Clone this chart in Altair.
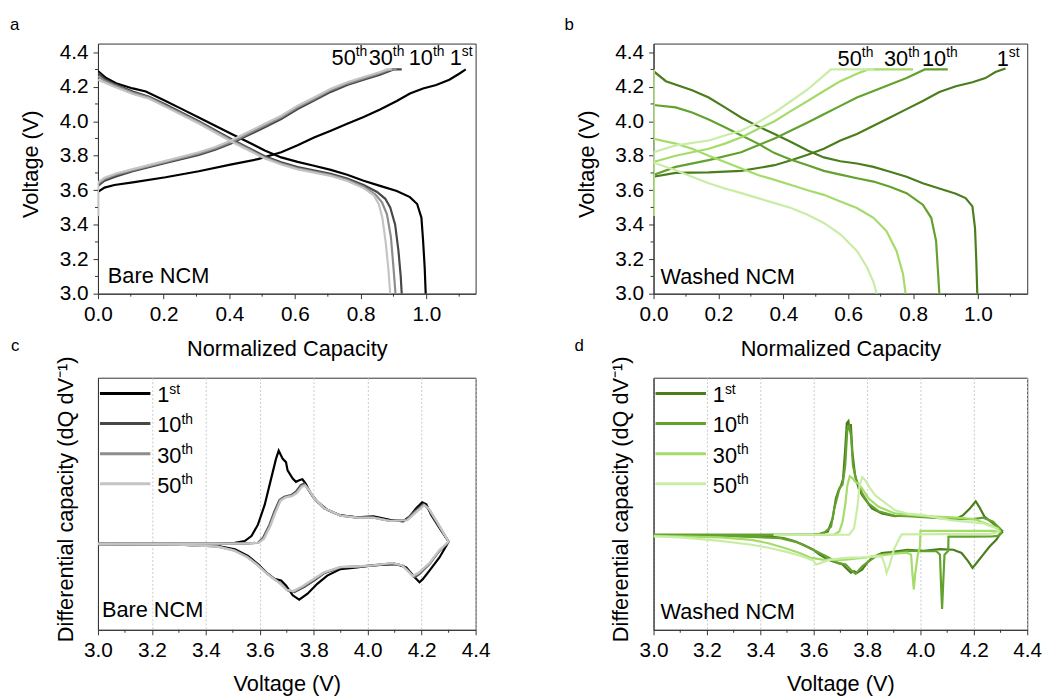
import altair as alt
import pandas as pd

CYCLES = ["1st", "10th", "30th", "50th"]
NUMS = ["1", "10", "30", "50"]
SUPS = ["st", "th", "th", "th"]
GRAYS = ["#000000", "#474747", "#8c8c8c", "#c4c4c4"]
GREENS = ["#4b7d1d", "#62a22d", "#a4dc69", "#c9eda5"]

# ---------- panel a: Bare NCM, voltage vs normalized capacity ----------
A1_CHG = [(0.0, 3.45), (0.0, 3.59), (0.02, 3.615), (0.05, 3.63), (0.106, 3.645), (0.206, 3.675),
          (0.307, 3.71), (0.407, 3.75), (0.487, 3.78), (0.558, 3.82), (0.608, 3.86), (0.658, 3.905),
          (0.709, 3.945), (0.759, 3.985), (0.809, 4.025), (0.859, 4.068), (0.91, 4.117), (0.95, 4.16),
          (0.99, 4.19), (1.03, 4.21), (1.07, 4.24), (1.10, 4.275), (1.12, 4.30)]
A1_DIS = [(0.0, 4.29), (0.025, 4.25), (0.055, 4.22), (0.106, 4.19), (0.146, 4.172), (0.206, 4.117),
          (0.256, 4.07), (0.307, 4.022), (0.357, 3.974), (0.407, 3.926), (0.457, 3.879), (0.508, 3.83),
          (0.558, 3.79), (0.608, 3.764), (0.658, 3.742), (0.709, 3.718), (0.759, 3.69), (0.809, 3.655),
          (0.859, 3.625), (0.91, 3.595), (0.95, 3.56), (0.972, 3.52), (0.985, 3.44), (0.99, 3.31),
          (0.995, 3.15), (0.998, 3.0)]
A10_CHG = [(0.0, 3.45), (0.0, 3.625), (0.02, 3.655), (0.055, 3.68), (0.106, 3.71), (0.206, 3.758),
           (0.307, 3.805), (0.357, 3.835), (0.407, 3.872), (0.457, 3.918), (0.508, 3.965), (0.558, 4.012),
           (0.608, 4.07), (0.658, 4.12), (0.709, 4.17), (0.759, 4.21), (0.809, 4.24), (0.859, 4.27),
           (0.9, 4.30), (0.925, 4.30)]
A10_DIS = [(0.0, 4.28), (0.02, 4.245), (0.05, 4.215), (0.106, 4.172), (0.156, 4.142), (0.206, 4.097),
           (0.307, 4.0), (0.407, 3.895), (0.457, 3.846), (0.508, 3.797), (0.558, 3.762), (0.608, 3.734),
           (0.709, 3.695), (0.759, 3.668), (0.809, 3.63), (0.85, 3.59), (0.875, 3.55), (0.89, 3.5),
           (0.905, 3.4), (0.915, 3.25), (0.922, 3.1), (0.925, 3.0)]
A30_CHG = [(0.0, 3.45), (0.0, 3.635), (0.02, 3.665), (0.055, 3.69), (0.106, 3.716), (0.206, 3.764),
           (0.307, 3.812), (0.357, 3.842), (0.407, 3.88), (0.457, 3.927), (0.508, 3.975), (0.558, 4.022),
           (0.608, 4.08), (0.658, 4.128), (0.709, 4.18), (0.759, 4.218), (0.809, 4.248), (0.859, 4.278),
           (0.89, 4.30), (0.91, 4.30)]
A30_DIS = [(0.0, 4.26), (0.02, 4.235), (0.05, 4.208), (0.106, 4.165), (0.156, 4.137), (0.206, 4.09),
           (0.307, 3.994), (0.407, 3.888), (0.457, 3.84), (0.508, 3.79), (0.558, 3.755), (0.608, 3.727),
           (0.709, 3.688), (0.759, 3.66), (0.809, 3.62), (0.845, 3.575), (0.865, 3.53), (0.88, 3.46),
           (0.892, 3.33), (0.9, 3.15), (0.906, 3.0)]
A50_CHG = [(0.0, 3.45), (0.0, 3.645), (0.02, 3.672), (0.055, 3.697), (0.106, 3.722), (0.206, 3.77),
           (0.307, 3.82), (0.357, 3.85), (0.407, 3.89), (0.457, 3.937), (0.508, 3.985), (0.558, 4.032),
           (0.608, 4.09), (0.658, 4.137), (0.709, 4.188), (0.759, 4.226), (0.809, 4.256), (0.859, 4.285),
           (0.88, 4.30), (0.895, 4.30)]
A50_DIS = [(0.0, 4.24), (0.02, 4.225), (0.05, 4.2), (0.106, 4.158), (0.156, 4.13), (0.206, 4.083),
           (0.307, 3.987), (0.407, 3.881), (0.457, 3.833), (0.508, 3.784), (0.558, 3.749), (0.608, 3.721),
           (0.709, 3.682), (0.759, 3.653), (0.809, 3.612), (0.84, 3.57), (0.855, 3.52), (0.866, 3.44),
           (0.876, 3.3), (0.884, 3.15), (0.89, 3.0)]

# ---------- panel b: Washed NCM, voltage vs normalized capacity ----------
B1_CHG = [(0.0, 3.45), (0.0, 3.678), (0.068, 3.70), (0.17, 3.703), (0.27, 3.712), (0.373, 3.745),
          (0.424, 3.774), (0.475, 3.806), (0.525, 3.84), (0.576, 3.888), (0.627, 3.926), (0.678, 3.974),
          (0.729, 4.022), (0.78, 4.07), (0.83, 4.117), (0.881, 4.169), (0.932, 4.203), (0.983, 4.226),
          (1.023, 4.25), (1.054, 4.285), (1.085, 4.305)]
B1_DIS = [(0.0, 4.29), (0.038, 4.232), (0.119, 4.18), (0.17, 4.137), (0.22, 4.08), (0.271, 4.02),
          (0.322, 3.97), (0.373, 3.926), (0.424, 3.879), (0.475, 3.83), (0.525, 3.79), (0.576, 3.768),
          (0.627, 3.755), (0.678, 3.735), (0.729, 3.707), (0.78, 3.678), (0.83, 3.64), (0.881, 3.61),
          (0.932, 3.58), (0.962, 3.554), (0.983, 3.506), (0.991, 3.38), (0.995, 3.19), (0.998, 3.0)]
B10_CHG = [(0.0, 3.45), (0.0, 3.688), (0.068, 3.735), (0.17, 3.774), (0.27, 3.82), (0.322, 3.86),
           (0.373, 3.90), (0.424, 3.946), (0.475, 3.993), (0.525, 4.04), (0.576, 4.089), (0.627, 4.137),
           (0.678, 4.175), (0.729, 4.213), (0.78, 4.25), (0.836, 4.30), (0.907, 4.30)]
B10_DIS = [(0.0, 4.094), (0.068, 4.08), (0.119, 4.05), (0.17, 4.01), (0.22, 3.965), (0.271, 3.917),
           (0.322, 3.87), (0.373, 3.815), (0.424, 3.776), (0.475, 3.745), (0.525, 3.712), (0.576, 3.69),
           (0.627, 3.669), (0.678, 3.65), (0.729, 3.62), (0.78, 3.583), (0.83, 3.516), (0.856, 3.44),
           (0.871, 3.306), (0.876, 3.153), (0.881, 3.0)]
B30_CHG = [(0.0, 3.45), (0.0, 3.764), (0.068, 3.80), (0.17, 3.84), (0.22, 3.87), (0.271, 3.907),
           (0.322, 3.955), (0.373, 4.0), (0.424, 4.06), (0.475, 4.117), (0.525, 4.175), (0.576, 4.232),
           (0.627, 4.275), (0.662, 4.30), (0.80, 4.30)]
B30_DIS = [(0.0, 4.30), (0.0, 3.898), (0.068, 3.87), (0.119, 3.84), (0.17, 3.80), (0.22, 3.764),
           (0.271, 3.726), (0.322, 3.688), (0.373, 3.66), (0.424, 3.63), (0.475, 3.60), (0.525, 3.573),
           (0.576, 3.535), (0.627, 3.497), (0.678, 3.44), (0.718, 3.363), (0.749, 3.248), (0.769, 3.115),
           (0.777, 3.0)]
B50_CHG = [(0.0, 3.45), (0.0, 3.82), (0.068, 3.86), (0.17, 3.888), (0.22, 3.917), (0.271, 3.946),
           (0.322, 3.993), (0.373, 4.05), (0.424, 4.117), (0.475, 4.184), (0.505, 4.232), (0.547, 4.30),
           (0.68, 4.30)]
B50_DIS = [(0.0, 4.30), (0.0, 3.76), (0.068, 3.716), (0.119, 3.678), (0.17, 3.64), (0.22, 3.61),
           (0.271, 3.583), (0.322, 3.554), (0.373, 3.525), (0.424, 3.497), (0.475, 3.458), (0.525, 3.41),
           (0.576, 3.344), (0.627, 3.248), (0.658, 3.153), (0.678, 3.067), (0.688, 3.0)]

# ---------- panel c: Bare NCM, dQ/dV vs voltage (arbitrary units) ----------
C1_CHG = [(3.0, 0.0), (3.3, 0.0), (3.45, 0.003), (3.508, 0.01), (3.544, 0.027), (3.569, 0.077),
          (3.593, 0.193), (3.618, 0.393), (3.642, 0.66), (3.66, 0.86), (3.67, 0.943), (3.685, 0.86),
          (3.697, 0.827), (3.703, 0.743), (3.722, 0.66), (3.734, 0.627), (3.746, 0.643), (3.758, 0.653),
          (3.77, 0.61), (3.789, 0.51), (3.813, 0.427), (3.85, 0.343), (3.899, 0.287), (3.96, 0.267),
          (4.021, 0.277), (4.082, 0.243), (4.131, 0.227), (4.156, 0.277), (4.18, 0.36), (4.202, 0.42),
          (4.217, 0.40), (4.235, 0.293), (4.266, 0.16), (4.30, 0.02)]
C1_DIS = [(4.30, 0.02), (4.266, -0.14), (4.229, -0.273), (4.205, -0.357), (4.192, -0.39), (4.174, -0.34),
          (4.143, -0.24), (4.107, -0.207), (4.021, -0.217), (3.96, -0.24), (3.899, -0.257), (3.85, -0.323),
          (3.813, -0.407), (3.777, -0.507), (3.746, -0.567), (3.722, -0.523), (3.697, -0.423),
          (3.679, -0.373), (3.654, -0.357), (3.63, -0.307), (3.593, -0.207), (3.556, -0.123),
          (3.508, -0.057), (3.446, -0.023), (3.3, -0.01), (3.0, -0.005)]
C10_CHG = [(3.0, 0.0), (3.4, 0.0), (3.55, 0.002), (3.593, 0.01), (3.612, 0.06), (3.636, 0.193),
           (3.654, 0.327), (3.673, 0.443), (3.691, 0.477), (3.716, 0.493), (3.734, 0.527), (3.752, 0.593),
           (3.764, 0.61), (3.777, 0.56), (3.801, 0.46), (3.838, 0.36), (3.899, 0.287), (3.96, 0.267),
           (4.021, 0.267), (4.082, 0.233), (4.143, 0.243), (4.174, 0.327), (4.205, 0.40), (4.223, 0.36),
           (4.253, 0.227), (4.30, 0.02)]
C10_DIS = [(4.30, 0.02), (4.266, -0.073), (4.229, -0.207), (4.192, -0.307), (4.174, -0.34), (4.156, -0.29),
           (4.131, -0.223), (4.094, -0.20), (4.021, -0.223), (3.96, -0.233), (3.899, -0.24), (3.838, -0.30),
           (3.801, -0.373), (3.764, -0.44), (3.728, -0.49), (3.703, -0.473), (3.679, -0.407),
           (3.654, -0.357), (3.63, -0.307), (3.593, -0.213), (3.556, -0.133), (3.508, -0.067),
           (3.446, -0.027), (3.3, -0.01), (3.0, -0.005)]
C30_CHG = [(3.0, 0.0), (3.4, 0.0), (3.55, 0.002), (3.595, 0.01), (3.614, 0.055), (3.638, 0.19),
           (3.656, 0.32), (3.675, 0.44), (3.693, 0.472), (3.718, 0.487), (3.736, 0.52), (3.754, 0.585),
           (3.766, 0.60), (3.779, 0.555), (3.803, 0.455), (3.84, 0.357), (3.9, 0.285), (3.96, 0.265),
           (4.021, 0.265), (4.082, 0.232), (4.145, 0.24), (4.176, 0.32), (4.208, 0.395), (4.226, 0.355),
           (4.256, 0.222), (4.30, 0.02)]
C30_DIS = [(4.30, 0.02), (4.266, -0.068), (4.229, -0.2), (4.19, -0.3), (4.17, -0.333), (4.153, -0.285),
           (4.128, -0.22), (4.092, -0.198), (4.021, -0.22), (3.96, -0.232), (3.899, -0.238), (3.838, -0.295),
           (3.8, -0.365), (3.762, -0.432), (3.726, -0.485), (3.701, -0.47), (3.677, -0.405),
           (3.652, -0.355), (3.628, -0.305), (3.591, -0.213), (3.554, -0.135), (3.506, -0.068),
           (3.444, -0.028), (3.3, -0.01), (3.0, -0.005)]
C50_CHG = [(3.0, 0.0), (3.4, 0.0), (3.55, 0.002), (3.597, 0.01), (3.616, 0.05), (3.64, 0.185),
           (3.658, 0.315), (3.677, 0.435), (3.695, 0.468), (3.72, 0.482), (3.738, 0.515), (3.756, 0.578),
           (3.768, 0.59), (3.781, 0.55), (3.805, 0.45), (3.842, 0.355), (3.9, 0.283), (3.96, 0.264),
           (4.021, 0.263), (4.082, 0.23), (4.147, 0.238), (4.178, 0.315), (4.21, 0.39), (4.228, 0.35),
           (4.258, 0.218), (4.30, 0.02)]
C50_DIS = [(4.30, 0.02), (4.266, -0.063), (4.229, -0.195), (4.188, -0.295), (4.166, -0.328),
           (4.15, -0.28), (4.126, -0.218), (4.09, -0.196), (4.021, -0.218), (3.96, -0.23), (3.899, -0.236),
           (3.838, -0.29), (3.798, -0.36), (3.76, -0.428), (3.724, -0.48), (3.699, -0.467), (3.675, -0.403),
           (3.65, -0.353), (3.626, -0.303), (3.589, -0.212), (3.552, -0.136), (3.504, -0.07),
           (3.442, -0.03), (3.3, -0.01), (3.0, -0.005)]

# ---------- panel d: Washed NCM, dQ/dV vs voltage (arbitrary units) ----------
D1_CHG = [(3.0, 0.0), (3.4, 0.0), (3.6, 0.003), (3.622, 0.01), (3.653, 0.034), (3.671, 0.167),
          (3.683, 0.367), (3.693, 0.45), (3.702, 0.494), (3.71, 0.567), (3.718, 0.867), (3.724, 1.13),
          (3.73, 1.15), (3.735, 1.05), (3.739, 1.12), (3.745, 0.834), (3.755, 0.6), (3.769, 0.467),
          (3.782, 0.40), (3.80, 0.334), (3.818, 0.267), (3.855, 0.217), (3.904, 0.19), (3.95, 0.2),
          (4.012, 0.184), (4.074, 0.175), (4.136, 0.167), (4.16, 0.2), (4.185, 0.267), (4.207, 0.34),
          (4.22, 0.284), (4.24, 0.184), (4.272, 0.117), (4.296, 0.067), (4.309, 0.034)]
D1_DIS = [(4.309, 0.034), (4.296, 0.0), (4.284, -0.05), (4.259, -0.117), (4.235, -0.2), (4.21, -0.284),
          (4.195, -0.333), (4.179, -0.267), (4.154, -0.183), (4.123, -0.15), (4.074, -0.143),
          (4.012, -0.16), (3.951, -0.15), (3.889, -0.173), (3.855, -0.183), (3.818, -0.233), (3.80, -0.283),
          (3.782, -0.35), (3.763, -0.383), (3.751, -0.367), (3.739, -0.383), (3.72, -0.333), (3.708, -0.30),
          (3.69, -0.283), (3.671, -0.267), (3.653, -0.25), (3.622, -0.20), (3.598, -0.15), (3.561, -0.10),
          (3.524, -0.06), (3.487, -0.033), (3.438, -0.017), (3.2, -0.008), (3.0, -0.005)]
D10_CHG = [(3.0, 0.0), (3.4, 0.0), (3.6, 0.003), (3.634, 0.01), (3.665, 0.083), (3.677, 0.267),
           (3.69, 0.40), (3.698, 0.484), (3.708, 0.507), (3.718, 0.70), (3.726, 1.067), (3.733, 1.10),
           (3.74, 1.0), (3.747, 0.70), (3.76, 0.55), (3.782, 0.417), (3.806, 0.317), (3.843, 0.24),
           (3.904, 0.194), (3.95, 0.19), (4.012, 0.18), (4.074, 0.17), (4.136, 0.163), (4.198, 0.16),
           (4.235, 0.174), (4.272, 0.134), (4.296, 0.067), (4.305, 0.03)]
D10_DIS = [(4.305, 0.03), (4.29, -0.01), (4.265, -0.016), (4.18, -0.018), (4.105, -0.016), (4.104, -0.16),
           (4.09, -0.2), (4.085, -0.5), (4.081, -0.75), (4.077, -0.5), (4.073, -0.2), (4.06, -0.165),
           (4.012, -0.165), (3.951, -0.16), (3.904, -0.183), (3.843, -0.20), (3.806, -0.267),
           (3.782, -0.317), (3.757, -0.393), (3.745, -0.37), (3.72, -0.30), (3.69, -0.283), (3.659, -0.233),
           (3.622, -0.183), (3.585, -0.133), (3.536, -0.073), (3.475, -0.033), (3.3, -0.012), (3.0, -0.005)]
D30_CHG = [(3.45, 0.0), (3.677, 0.003), (3.696, 0.034), (3.708, 0.134), (3.718, 0.30), (3.726, 0.50),
           (3.735, 0.594), (3.745, 0.575), (3.757, 0.534), (3.769, 0.517), (3.782, 0.467), (3.806, 0.367),
           (3.843, 0.284), (3.904, 0.217), (3.95, 0.205), (4.012, 0.19), (4.136, 0.175), (4.2, 0.16),
           (4.259, 0.1), (4.29, 0.067), (4.30, 0.03)]
D30_DIS = [(4.30, 0.03), (4.27, 0.04), (4.0, 0.04), (3.998, -0.12), (3.99, -0.2), (3.98, -0.4),
           (3.975, -0.55), (3.97, -0.4), (3.965, -0.2), (3.95, -0.18), (3.904, -0.19), (3.843, -0.21),
           (3.782, -0.233), (3.72, -0.25), (3.683, -0.255), (3.634, -0.25), (3.59, -0.233), (3.55, -0.185),
           (3.491, -0.133), (3.43, -0.085), (3.368, -0.05), (3.25, -0.025), (3.0, -0.01)]
D50_CHG = [(3.45, 0.0), (3.733, 0.003), (3.751, 0.067), (3.763, 0.267), (3.772, 0.50), (3.782, 0.584),
           (3.794, 0.55), (3.812, 0.467), (3.831, 0.40), (3.855, 0.35), (3.88, 0.30), (3.904, 0.25),
           (3.95, 0.215), (4.012, 0.2), (4.112, 0.15), (4.234, 0.117), (4.283, 0.067), (4.295, 0.03)]
D50_DIS = [(4.295, 0.03), (4.26, 0.01), (3.93, 0.005), (3.922, -0.03), (3.9, -0.15), (3.885, -0.3),
           (3.873, -0.383), (3.866, -0.3), (3.855, -0.22), (3.83, -0.217), (3.782, -0.227), (3.72, -0.233),
           (3.659, -0.25), (3.627, -0.283), (3.61, -0.30), (3.598, -0.26), (3.59, -0.25), (3.55, -0.21),
           (3.491, -0.167), (3.43, -0.13), (3.368, -0.10), (3.25, -0.06), (3.1, -0.025), (3.0, -0.015)]

# cycle label anchors (panels a, b): boundary between number and superscript
A_LABEL_X = [1.108, 1.02, 0.898, 0.785]
A_LABEL_V = 4.328
B_LABEL_X = [1.095, 0.902, 0.785, 0.642]
B_LABEL_V = 4.318

CAP_TICKS = [0.0, 0.2, 0.4, 0.6, 0.8, 1.0]
CAP_MINOR = [0.1, 0.3, 0.5, 0.7, 0.9, 1.1]
V_TICKS = [3.0, 3.2, 3.4, 3.6, 3.8, 4.0, 4.2, 4.4]
V_MINOR = [3.1, 3.3, 3.5, 3.7, 3.9, 4.1, 4.3]

FONT = "Liberation Sans"
FS = 22      # titles, annotations
FS_TICK = 21
FS_SUP = 14
FRAME = "#333333"


def curves_df(spec):
    rows = []
    for cyc, branch, pts in spec:
        for i, (x, y) in enumerate(pts):
            rows.append({"cycle": cyc, "key": cyc + "-" + branch, "i": i, "x": x, "y": y})
    return pd.DataFrame(rows)


def panel(df, xdom, ydom, colors, xaxis, yaxis, xminor, yminor, w, h,
          letter, letter_xy, name, name_xy, label_x=None, label_v=None, legend=False):
    xs = alt.Scale(domain=xdom, nice=False, zero=False)
    ys = alt.Scale(domain=ydom, nice=False, zero=False)
    col = alt.Color("cycle:N", scale=alt.Scale(domain=CYCLES, range=colors), legend=None)
    layers = []
    layers.append(alt.Chart(df).mark_line(strokeWidth=2.2, clip=True).encode(
        x=alt.X("x:Q", scale=xs, axis=xaxis),
        y=alt.Y("y:Q", scale=ys, axis=yaxis),
        color=col, detail="key:N", order="i:Q"))
    # minor ticks (outward, shorter than the major ones)
    layers.append(alt.Chart(pd.DataFrame({"v": xminor})).mark_rule(color=FRAME, strokeWidth=1).encode(
        x=alt.X("v:Q", scale=xs, axis=None), y=alt.value(h), y2=alt.value(h + 3)))
    if yminor:
        layers.append(alt.Chart(pd.DataFrame({"v": yminor})).mark_rule(color=FRAME, strokeWidth=1).encode(
            y=alt.Y("v:Q", scale=ys, axis=None), x=alt.value(0), x2=alt.value(-3)))
    layers.append(alt.Chart(pd.DataFrame({"t": [letter]})).mark_text(
        align="left", baseline="alphabetic", fontSize=17, font=FONT, color="black").encode(
        x=alt.value(letter_xy[0]), y=alt.value(letter_xy[1]), text="t:N"))
    layers.append(alt.Chart(pd.DataFrame({"t": [name]})).mark_text(
        align="left", baseline="alphabetic", fontSize=FS, font=FONT, color="black").encode(
        x=alt.value(name_xy[0]), y=alt.value(name_xy[1]), text="t:N"))
    if label_x is not None:
        ldf = pd.DataFrame({"cycle": CYCLES, "num": NUMS, "sup": SUPS,
                            "lx": label_x, "ly": [label_v] * 4})
        layers.append(alt.Chart(ldf).mark_text(
            align="right", baseline="alphabetic", fontSize=FS, font=FONT, color="black").encode(
            x=alt.X("lx:Q", scale=xs, axis=None), y=alt.Y("ly:Q", scale=ys, axis=None), text="num:N"))
        layers.append(alt.Chart(ldf).mark_text(
            align="left", baseline="alphabetic", fontSize=FS_SUP, dy=-9, font=FONT, color="black").encode(
            x=alt.X("lx:Q", scale=xs, axis=None), y=alt.Y("ly:Q", scale=ys, axis=None), text="sup:N"))
    if legend:
        for i, (cyc, num, sup) in enumerate(zip(CYCLES, NUMS, SUPS)):
            one = pd.DataFrame({"cycle": [cyc], "num": [num], "sup": [sup]})
            ly = 16 + 30.4 * i
            layers.append(alt.Chart(one).mark_rule(strokeWidth=3).encode(
                x=alt.value(2), x2=alt.value(53), y=alt.value(ly), color=col))
            layers.append(alt.Chart(one).mark_text(
                align="left", baseline="alphabetic", fontSize=FS, font=FONT, color="black").encode(
                x=alt.value(60), y=alt.value(ly + 9), text="num:N"))
            layers.append(alt.Chart(one).mark_text(
                align="left", baseline="alphabetic", fontSize=FS_SUP, font=FONT, color="black").encode(
                x=alt.value(60 + 0.556 * FS * len(num)), y=alt.value(ly), text="sup:N"))
    return alt.layer(*layers).resolve_axis(x="independent", y="independent").properties(width=w, height=h)


def cap_axes(h):
    xa = alt.Axis(values=CAP_TICKS, format=".1f", title="Normalized Capacity", titlePadding=15,
                  labelFlush=False, labelOverlap=False, grid=False, orient="bottom")
    ya = alt.Axis(values=V_TICKS, format=".1f", title="Voltage (V)", titlePadding=17,
                  titleY=h / 2 - 5, labelFlush=False, labelOverlap=False, grid=False, orient="left")
    return xa, ya


def dq_axes(h):
    xa = alt.Axis(values=V_TICKS, format=".1f", title="Voltage (V)", titlePadding=13,
                  labelFlush=False, labelOverlap=False, grid=True, gridColor="#c8c8c8",
                  gridDash=[2, 2], gridWidth=1, orient="bottom")
    ya = alt.Axis(labels=False, ticks=False, grid=False, title="Differential capacity (dQ dV\u207b\u00b9)",
                  titlePadding=21, titleY=h / 2 - 5, orient="left")
    return xa, ya


df_a = curves_df([("1st", "c", A1_CHG), ("1st", "d", A1_DIS), ("10th", "c", A10_CHG), ("10th", "d", A10_DIS),
                  ("30th", "c", A30_CHG), ("30th", "d", A30_DIS), ("50th", "c", A50_CHG), ("50th", "d", A50_DIS)])
df_b = curves_df([("1st", "c", B1_CHG), ("1st", "d", B1_DIS), ("10th", "c", B10_CHG), ("10th", "d", B10_DIS),
                  ("30th", "c", B30_CHG), ("30th", "d", B30_DIS), ("50th", "c", B50_CHG), ("50th", "d", B50_DIS)])
df_c = curves_df([("1st", "c", C1_CHG), ("1st", "d", C1_DIS), ("10th", "c", C10_CHG), ("10th", "d", C10_DIS),
                  ("30th", "c", C30_CHG), ("30th", "d", C30_DIS), ("50th", "c", C50_CHG), ("50th", "d", C50_DIS)])
df_d = curves_df([("1st", "c", D1_CHG), ("1st", "d", D1_DIS), ("10th", "c", D10_CHG), ("10th", "d", D10_DIS),
                  ("30th", "c", D30_CHG), ("30th", "d", D30_DIS), ("50th", "c", D50_CHG), ("50th", "d", D50_DIS)])

H_TOP, H_BOT = 253, 255
xa, ya = cap_axes(H_TOP)
pa = panel(df_a, [0.0, 1.15], [3.0, 4.45], GRAYS, xa, ya, CAP_MINOR, V_MINOR, 382, H_TOP,
           "a", (-89, -14), "Bare NCM", (10, 242), A_LABEL_X, A_LABEL_V)
xa, ya = cap_axes(H_TOP)
pb = panel(df_b, [0.0, 1.152], [3.0, 4.45], GREENS, xa, ya, CAP_MINOR, V_MINOR, 378, H_TOP,
           "b", (-90, -14), "Washed NCM", (7, 243), B_LABEL_X, B_LABEL_V)
xa, ya = dq_axes(H_BOT)
pc = panel(df_c, [3.0, 4.4], [-0.873, 1.683], GRAYS, xa, ya, V_MINOR, None, 382, H_BOT,
           "c", (-88, -27), "Bare NCM", (4, 242), legend=True)
xa, ya = dq_axes(H_BOT)
pd_ = panel(df_d, [3.0, 4.4], [-0.96, 1.59], GREENS, xa, ya, V_MINOR, None, 378, H_BOT,
            "d", (-80, -27), "Washed NCM", (7, 244), legend=True)

chart = alt.concat(pa, pb, pc, pd_, columns=2, spacing={"row": 85, "column": 180},
                   bounds="flush", align="each").resolve_scale(color="independent").properties(
    padding={"left": 1, "top": 3, "right": 5, "bottom": 0}
).configure(font=FONT).configure_view(stroke=FRAME, strokeWidth=1).configure_axis(
    labelFont=FONT, titleFont=FONT, labelFontSize=FS_TICK, titleFontSize=FS, labelColor="black",
    titleColor="black", titleFontWeight="normal", domainColor=FRAME, tickColor=FRAME,
    tickSize=5, labelPadding=5, domainWidth=1, tickWidth=1)

chart.save("out.html", embed_options={"renderer": "svg", "actions": False})
